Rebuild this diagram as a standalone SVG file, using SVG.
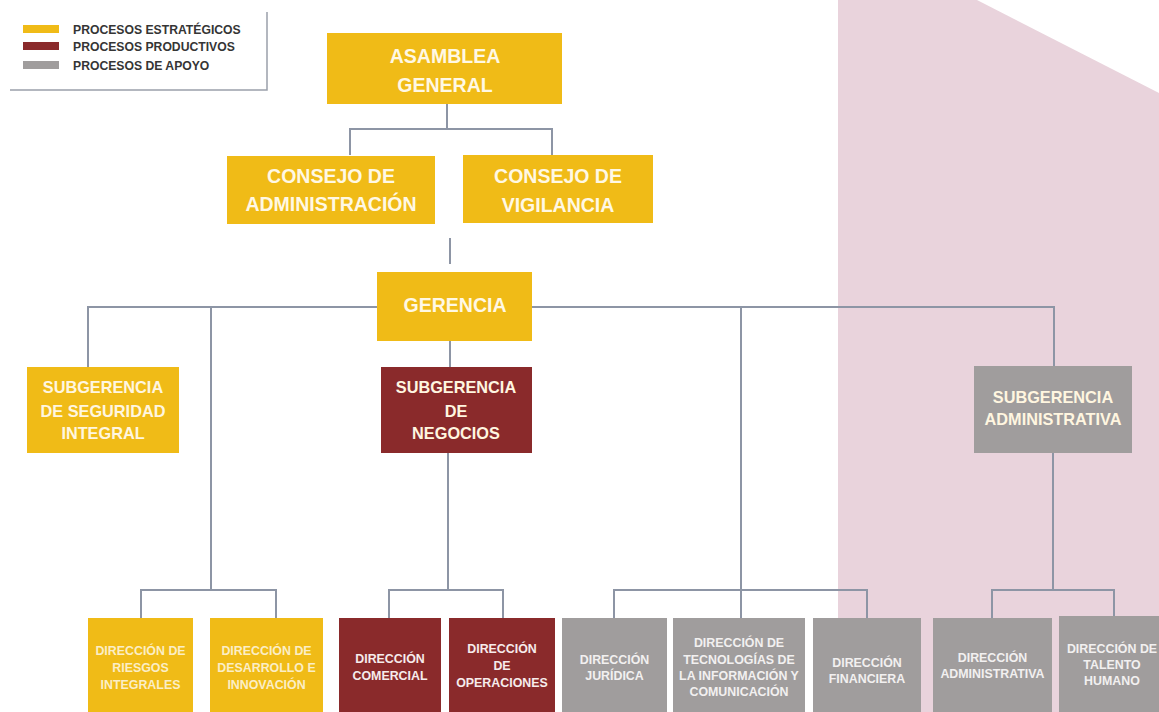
<svg xmlns="http://www.w3.org/2000/svg" width="1159" height="712" viewBox="0 0 1159 712">
  <style>
    .y { fill: #f0bb17; }
    .r { fill: #8a2a2b; }
    .g { fill: #a09d9d; }
    .t { font-family: "Liberation Sans", Arial, sans-serif; font-weight: bold; text-anchor: middle; }
    .big { font-size: 19.5px; fill: #fff8e4; }
    .mid { font-size: 16.3px; fill: #fff6e0; }
    .sm { font-size: 12.4px; }
    .sy { fill: #fbeec6; }
    .sr { fill: #f6ecec; }
    .sg { fill: #f2f0f0; }
    .lg { font-family: "Liberation Sans", Arial, sans-serif; font-weight: bold; font-size: 12.2px; fill: #353535; }
    .c { fill: none; stroke: #8d95a5; stroke-width: 2; }
  </style>

  <rect width="1159" height="712" fill="#ffffff"/>
  <!-- shaded support-process area -->
  <polygon points="838,0 977,0 1159,93 1159,712 838,712" fill="#e9d3dc"/>

  <!-- legend -->
  <g id="legend">
    <polyline points="10,90 267,90 267,12" fill="none" stroke="#9aa0aa" stroke-width="1.5"/>
    <rect x="23" y="25" width="36" height="8" class="y"/>
    <rect x="23" y="42" width="36" height="8" class="r"/>
    <rect x="23" y="61" width="36" height="8" class="g"/>
    <text x="73" y="33.5" class="lg">PROCESOS ESTRATÉGICOS</text>
    <text x="73" y="50.5" class="lg">PROCESOS PRODUCTIVOS</text>
    <text x="73" y="69.5" class="lg">PROCESOS DE APOYO</text>
  </g>

  <!-- connectors -->
  <g id="connectors">
    <polyline class="c" points="447,104 447,129"/>
    <polyline class="c" points="350,155 350,129 552,129 552,155"/>
    <polyline class="c" points="450,238 450,264"/>
    <polyline class="c" points="88,367 88,307 377,307"/>
    <polyline class="c" points="211,307 211,590"/>
    <polyline class="c" points="532,307 1054,307 1054,366"/>
    <polyline class="c" points="741,307 741,618"/>
    <polyline class="c" points="450,341 450,367"/>
    <polyline class="c" points="448,453 448,590"/>
    <polyline class="c" points="1053,453 1053,590"/>
    <polyline class="c" points="141,618 141,590 276,590 276,618"/>
    <polyline class="c" points="389,618 389,590 503,590 503,618"/>
    <polyline class="c" points="614,618 614,590 867,590 867,618"/>
    <polyline class="c" points="992,618 992,590 1114,590 1114,616"/>
  </g>

  <g id="asamblea">
    <rect x="327" y="33" width="235" height="71" class="y"/>
    <text x="445" y="63" class="t big">ASAMBLEA</text>
    <text x="445" y="92" class="t big">GENERAL</text>
  </g>

  <g id="consejo-administracion">
    <rect x="227" y="156" width="208" height="68" class="y"/>
    <text x="331" y="183" class="t big">CONSEJO DE</text>
    <text x="331" y="211" class="t big">ADMINISTRACIÓN</text>
  </g>

  <g id="consejo-vigilancia">
    <rect x="463" y="155" width="190" height="68" class="y"/>
    <text x="558" y="183" class="t big">CONSEJO DE</text>
    <text x="558" y="212" class="t big">VIGILANCIA</text>
  </g>

  <g id="gerencia">
    <rect x="377" y="272" width="155" height="69" class="y"/>
    <text x="455" y="312" class="t big">GERENCIA</text>
  </g>

  <g id="subgerencia-seguridad">
    <rect x="27" y="367" width="152" height="86" class="y"/>
    <text x="103" y="393" class="t mid">SUBGERENCIA</text>
    <text x="103" y="417" class="t mid">DE SEGURIDAD</text>
    <text x="103" y="439" class="t mid">INTEGRAL</text>
  </g>

  <g id="subgerencia-negocios">
    <rect x="381" y="367" width="151" height="86" class="r"/>
    <text x="456" y="393" class="t mid">SUBGERENCIA</text>
    <text x="456" y="417" class="t mid">DE</text>
    <text x="456" y="439" class="t mid">NEGOCIOS</text>
  </g>

  <g id="subgerencia-administrativa">
    <rect x="974" y="366" width="158" height="87" class="g"/>
    <text x="1053" y="403" class="t mid">SUBGERENCIA</text>
    <text x="1053" y="425" class="t mid">ADMINISTRATIVA</text>
  </g>

  <g id="direccion-riesgos">
    <rect x="88" y="618" width="105" height="94" class="y"/>
    <text x="140.5" y="655" class="t sm sy">DIRECCIÓN DE</text>
    <text x="140.5" y="672" class="t sm sy">RIESGOS</text>
    <text x="140.5" y="689" class="t sm sy">INTEGRALES</text>
  </g>

  <g id="direccion-desarrollo">
    <rect x="210" y="618" width="113" height="94" class="y"/>
    <text x="266.5" y="655" class="t sm sy">DIRECCIÓN DE</text>
    <text x="266.5" y="672" class="t sm sy">DESARROLLO E</text>
    <text x="266.5" y="689" class="t sm sy">INNOVACIÓN</text>
  </g>

  <g id="direccion-comercial">
    <rect x="339" y="618" width="102" height="94" class="r"/>
    <text x="390" y="663" class="t sm sr">DIRECCIÓN</text>
    <text x="390" y="680" class="t sm sr">COMERCIAL</text>
  </g>

  <g id="direccion-operaciones">
    <rect x="449" y="618" width="106" height="94" class="r"/>
    <text x="502" y="653" class="t sm sr">DIRECCIÓN</text>
    <text x="502" y="670" class="t sm sr">DE</text>
    <text x="502" y="687" class="t sm sr">OPERACIONES</text>
  </g>

  <g id="direccion-juridica">
    <rect x="562" y="618" width="105" height="94" class="g"/>
    <text x="614.5" y="664" class="t sm sg">DIRECCIÓN</text>
    <text x="614.5" y="680" class="t sm sg">JURÍDICA</text>
  </g>

  <g id="direccion-tecnologias">
    <rect x="673" y="618" width="132" height="94" class="g"/>
    <text x="739" y="647" class="t sm sg">DIRECCIÓN DE</text>
    <text x="739" y="663.5" class="t sm sg">TECNOLOGÍAS DE</text>
    <text x="739" y="680" class="t sm sg">LA INFORMACIÓN Y</text>
    <text x="739" y="696" class="t sm sg">COMUNICACIÓN</text>
  </g>

  <g id="direccion-financiera">
    <rect x="813" y="618" width="108" height="94" class="g"/>
    <text x="867" y="667" class="t sm sg">DIRECCIÓN</text>
    <text x="867" y="683" class="t sm sg">FINANCIERA</text>
  </g>

  <g id="direccion-administrativa">
    <rect x="933" y="618" width="119" height="94" class="g"/>
    <text x="992.5" y="662" class="t sm sg">DIRECCIÓN</text>
    <text x="992.5" y="678" class="t sm sg">ADMINISTRATIVA</text>
  </g>

  <g id="direccion-talento">
    <rect x="1059" y="616" width="106" height="96" class="g"/>
    <text x="1112" y="653" class="t sm sg">DIRECCIÓN DE</text>
    <text x="1112" y="669" class="t sm sg">TALENTO</text>
    <text x="1112" y="685" class="t sm sg">HUMANO</text>
  </g>
</svg>
